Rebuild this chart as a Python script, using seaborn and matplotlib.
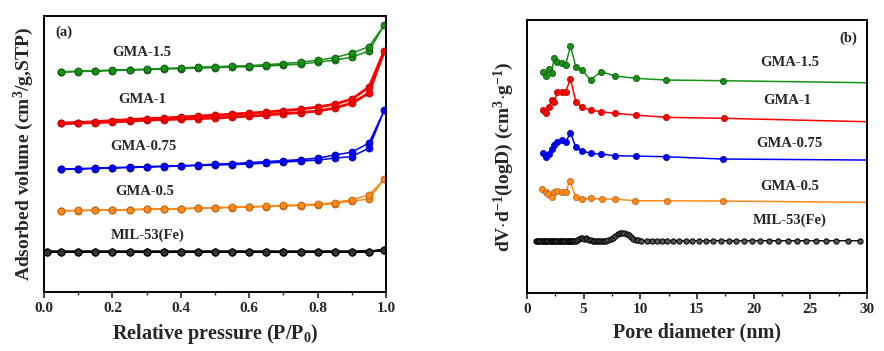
import pandas as pd
import matplotlib
matplotlib.use("Agg")
import matplotlib.pyplot as plt
import seaborn as sns
from matplotlib.ticker import MultipleLocator

# ---- (a) N2 isotherms: relative pressure, adsorption + desorption branch ----
p_ads = [0.05, 0.1, 0.15, 0.2, 0.25, 0.3, 0.35, 0.4, 0.45, 0.5,
         0.55, 0.6, 0.65, 0.7, 0.75, 0.8, 0.85, 0.9, 0.95, 0.995]
p_des = [0.95, 0.9, 0.85, 0.8, 0.75, 0.7, 0.65, 0.6, 0.55, 0.5,
         0.45, 0.4, 0.35, 0.3, 0.25, 0.2, 0.15, 0.1, 0.05]

gma15_ads = [220, 220.5, 221, 221.5, 222, 222.5, 223, 223.5, 224, 224.5,
             225, 225.5, 226, 227, 228, 230, 232, 235, 241, 267.3]
gma15_des = [245.5, 239, 234.5, 232, 230, 228.5, 227.5, 226.5, 226, 225.5,
             225, 224.3, 223.7, 223, 222.5, 222, 221.5, 221, 220.3]
gma1_ads = [168.7, 169, 169.5, 170, 171, 172, 172.5, 173, 173.5, 174,
            175, 176, 177, 178.5, 179.5, 181, 184, 189, 199, 241.3]
gma1_des = [205, 193, 188, 185, 183, 181.5, 180, 179, 178, 177,
            176, 175, 174, 173.5, 172.5, 171.5, 170.5, 169.5, 169]
gma075_ads = [122.7, 123, 123.5, 124, 124.5, 125, 125.5, 126, 126.5, 127,
              127.5, 128, 129, 130, 131, 132, 134, 135.5, 144, 182]
gma075_des = [149, 140, 137, 134, 132.5, 131.5, 130.5, 129.5, 128.5, 128,
              127, 126.5, 126, 125.5, 125, 124.5, 124, 123.5, 123]
gma05_ads = [81.3, 81.5, 81.7, 82, 82.3, 82.7, 83, 83.3, 83.7, 84,
             84.5, 85, 85.5, 86, 86.5, 87, 88.5, 91, 93, 113]
gma05_des = [97, 92.5, 89.5, 88, 87.3, 86.7, 86, 85.5, 85, 84.5,
             84, 83.5, 83.2, 82.8, 82.5, 82.2, 81.9, 81.6, 81.4]
mil_p = [0.008, 0.05, 0.1, 0.15, 0.2, 0.25, 0.3, 0.35, 0.4, 0.45, 0.5,
         0.55, 0.6, 0.65, 0.7, 0.75, 0.8, 0.85, 0.9, 0.95, 0.995]
mil_v = [40.3, 40.3, 40.3, 40.3, 40.3, 40.3, 40.3, 40.3, 40.3, 40.3, 40.3,
         40.3, 40.3, 40.3, 40.3, 40.3, 40.3, 40.3, 40.3, 40.5, 42]

# ---- (b) pore size distribution ----
d_gma15 = [1.38, 1.68, 1.97, 2.18, 2.41, 2.7, 3.06, 3.41, 3.85, 4.32,
           4.88, 5.62, 6.53, 7.8, 9.6, 12.3, 17.3, 30]
v_gma15 = [221.3, 217.3, 224, 220.3, 235.3, 231.3, 230.3, 227.7, 247, 226.3,
           223, 213, 221.3, 217, 214.7, 213, 212.3, 210.3]
d_gma1 = [1.38, 1.68, 1.97, 2.18, 2.41, 2.7, 3.06, 3.41, 3.85, 4.32,
          4.88, 5.62, 6.53, 7.8, 9.6, 12.3, 17.4, 30]
v_gma1 = [183, 179.7, 186.3, 193, 191.3, 201.3, 201.3, 201.3, 214, 191.3,
          185.7, 183, 181.3, 179.7, 178, 175.7, 174.7, 171.3]
d_gma075 = [1.38, 1.68, 1.97, 2.18, 2.41, 2.7, 3.06, 3.41, 3.85, 4.32,
            4.88, 5.62, 6.53, 7.8, 9.6, 12.3, 17.3, 30]
v_gma075 = [139.7, 136.3, 139, 144, 148, 150.7, 153, 150.7, 160.3, 145.7,
            142.3, 139.7, 139, 137.3, 137, 136.3, 134, 133]
d_gma05 = [1.35, 1.65, 1.88, 2.18, 2.38, 2.7, 3.06, 3.41, 3.8, 4.3,
           4.9, 5.65, 6.59, 7.77, 9.53, 12.4, 17.3, 30]
v_gma05 = [104, 101.3, 98.7, 96.3, 101.3, 102.3, 101.3, 100.7, 112.3, 96.3,
           94, 94.7, 94, 94, 92.3, 92.3, 92, 90.7]
d_mil = [0.8, 0.9, 1.0, 1.1, 1.2, 1.3, 1.4, 1.5, 1.6, 1.7, 1.8, 1.9, 2.0,
         2.1, 2.2, 2.3, 2.4, 2.5, 2.6, 2.7, 2.8, 2.9, 3.0, 3.1, 3.2, 3.3,
         3.4, 3.5, 3.6, 3.7, 3.8, 3.9, 4.0, 4.1, 4.2, 4.3, 4.45, 4.6, 4.75,
         4.9, 5.05, 5.2, 5.35, 5.5, 5.65, 5.8, 5.95, 6.1, 6.25, 6.4, 6.55,
         6.7, 6.85, 7.0, 7.2, 7.4, 7.6, 7.8, 8.0, 8.2, 8.4, 8.6, 8.8, 9.0,
         9.2, 9.4, 9.6, 9.8, 10.1, 10.56, 11.0, 11.45, 11.9, 12.39, 12.9,
         13.4, 14.0, 14.6, 15.2, 15.8, 16.4, 17.1, 17.8, 18.45, 19.15, 19.9,
         20.6, 21.4, 22.2, 23.0, 23.8, 24.6, 25.5, 26.4, 27.3, 28.3, 29.4]
v_mil = [52.3] * 36 + [53, 54.5, 55.5, 55, 54.5, 55, 54.5, 53.5, 53, 52.5, 52,
                       52, 52, 52, 52, 52, 52, 52.3, 53, 54, 55.5, 57.5,
                       59, 60, 60.5, 60.3, 59.5, 58, 56, 54.5, 53.3, 52.6] + [52.3] * 29

colors = {"GMA-1.5": "#169016", "GMA-1": "#ff0000", "GMA-0.75": "#0000ff",
          "GMA-0.5": "#ff8a1c", "MIL-53(Fe)": "#000000"}
edges = {"GMA-1.5": "#0b520b", "GMA-1": "#b00000", "GMA-0.75": "#0000a0",
         "GMA-0.5": "#b85a00", "MIL-53(Fe)": "#000000"}

sns.set_style("ticks")
plt.rcParams["font.family"] = ["Liberation Serif", "DejaVu Serif"]
plt.rcParams["font.weight"] = "bold"
plt.rcParams["mathtext.fontset"] = "custom"
plt.rcParams["mathtext.rm"] = "Liberation Serif:bold"
plt.rcParams["mathtext.it"] = "Liberation Serif:bold"
plt.rcParams["mathtext.bf"] = "Liberation Serif:bold"

fig = plt.figure(figsize=(8.84, 3.51), dpi=100)
ax1 = fig.add_axes([0.0498, 0.168, 0.3869, 0.786])
ax2 = fig.add_axes([0.596, 0.165, 0.3846, 0.778])

iso = [("GMA-1.5", gma15_ads, gma15_des), ("GMA-1", gma1_ads, gma1_des),
       ("GMA-0.75", gma075_ads, gma075_des), ("GMA-0.5", gma05_ads, gma05_des)]
for name, ads, des in iso:
    df = pd.DataFrame({"p": p_ads + p_des, "v": ads + des})
    lw = 2.0 if name == "GMA-1" else 1.1
    sns.lineplot(data=df, x="p", y="v", ax=ax1, sort=False, estimator=None,
                 color=colors[name], lw=lw, marker="o", markersize=5,
                 markerfacecolor=colors[name], markeredgecolor=edges[name],
                 markeredgewidth=0.6)
df = pd.DataFrame({"p": mil_p + mil_p[::-1], "v": mil_v + mil_v[::-1]})
sns.lineplot(data=df, x="p", y="v", ax=ax1, sort=False, estimator=None,
             color="black", lw=1.6, marker="o", markersize=5,
             markerfacecolor="#333333", markeredgecolor="black", markeredgewidth=0.8)

ax1.set_xlim(0, 1.0)
ax1.set_ylim(0, 276)
ax1.set_yticks([])
ax1.xaxis.set_major_locator(MultipleLocator(0.2))
ax1.xaxis.set_minor_locator(MultipleLocator(0.1))
ax1.set_xticklabels([f"{t:.1f}" for t in ax1.get_xticks()])
ax1.set_xlabel("Relative pressure (P/P$_0$)", fontsize=14.5, fontweight="bold", labelpad=5)
ax1.set_ylabel("Adsorbed volume (cm$^3$/g,STP)", fontsize=14, fontweight="bold", labelpad=6)
ax1.text(0.032, 260, "(a)", fontsize=10.5, fontweight="bold", va="center")
for name, x, y in [("GMA-1.5", 0.287, 239.3), ("GMA-1", 0.287, 193),
                   ("GMA-0.75", 0.29, 145.3), ("GMA-0.5", 0.295, 100.3),
                   ("MIL-53(Fe)", 0.302, 57)]:
    ax1.text(x, y, name, fontsize=10.5, fontweight="bold", ha="center", va="center")

psd = [("GMA-1.5", d_gma15, v_gma15), ("GMA-1", d_gma1, v_gma1),
       ("GMA-0.75", d_gma075, v_gma075), ("GMA-0.5", d_gma05, v_gma05)]
for name, d, v in psd:
    df = pd.DataFrame({"d": d, "v": v})
    sns.lineplot(data=df, x="d", y="v", ax=ax2, sort=False, estimator=None,
                 color=colors[name], lw=1.1, marker="o", markersize=4.5,
                 markevery=list(range(len(d) - 1)),
                 markerfacecolor=colors[name], markeredgecolor=edges[name],
                 markeredgewidth=0.5)
df = pd.DataFrame({"d": d_mil, "v": v_mil})
sns.lineplot(data=df, x="d", y="v", ax=ax2, sort=False, estimator=None,
             color="black", lw=1.0, marker="o", markersize=3.8,
             markerfacecolor="#555555", markeredgecolor="black", markeredgewidth=0.7)

ax2.set_xlim(0, 30)
ax2.set_ylim(0, 273)
ax2.set_yticks([])
ax2.xaxis.set_major_locator(MultipleLocator(5))
ax2.xaxis.set_minor_locator(MultipleLocator(2.5))
ax2.set_xlabel("Pore diameter (nm)", fontsize=14.5, fontweight="bold", labelpad=5)
ax2.set_ylabel("dV$\\cdot$d$^{-1}$(logD) (cm$^3$$\\cdot$g$^{-1}$)", fontsize=14,
               fontweight="bold", labelpad=8)
ax2.text(28.4, 254.7, "(b)", fontsize=10.5, fontweight="bold", ha="center", va="center")
for name, x, y in [("GMA-1.5", 23.2, 230.3), ("GMA-1", 23.0, 193),
                   ("GMA-0.75", 23.2, 149.7), ("GMA-0.5", 23.2, 106.3),
                   ("MIL-53(Fe)", 23.2, 73)]:
    ax2.text(x, y, name, fontsize=10.5, fontweight="bold", ha="center", va="center")

for ax in (ax1, ax2):
    for s in ax.spines.values():
        s.set_visible(True)
        s.set_linewidth(1.4)
        s.set_color("black")
    ax.tick_params(axis="x", which="major", direction="out", length=4, width=1.2,
                   labelsize=11, pad=3)
    ax.tick_params(axis="x", which="minor", direction="out", length=2.5, width=1.0)
    for lab in ax.get_xticklabels():
        lab.set_fontweight("bold")

fig.savefig("out.png", dpi=100)
